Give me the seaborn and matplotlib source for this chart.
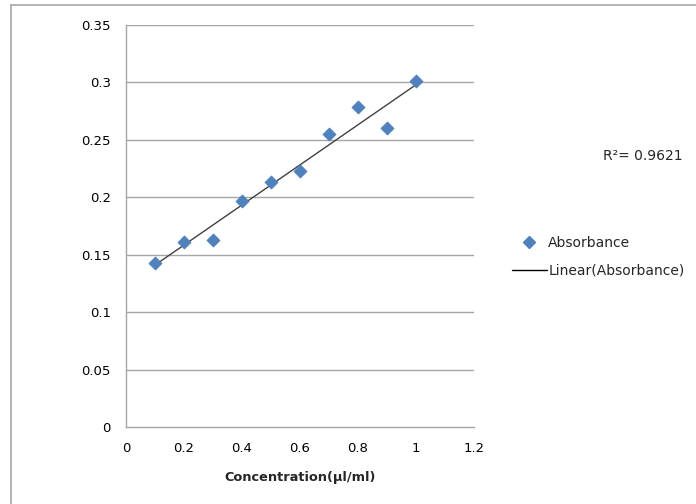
import numpy as np
import pandas as pd
import matplotlib
matplotlib.use("Agg")
import matplotlib.pyplot as plt
import seaborn as sns
from matplotlib.lines import Line2D

concentration = [0.1, 0.2, 0.3, 0.4, 0.5, 0.6, 0.7, 0.8, 0.9, 1.0]
absorbance = [0.143, 0.161, 0.163, 0.197, 0.213, 0.223, 0.255, 0.279, 0.260, 0.301]
x_ticks = [0, 0.2, 0.4, 0.6, 0.8, 1, 1.2]
x_tick_labels = ["0", "0.2", "0.4", "0.6", "0.8", "1", "1.2"]
y_ticks = [0, 0.05, 0.1, 0.15, 0.2, 0.25, 0.3, 0.35]
y_tick_labels = ["0", "0.05", "0.1", "0.15", "0.2", "0.25", "0.3", "0.35"]
r2_text = "R²= 0.9621"

df = pd.DataFrame({"Concentration": concentration, "Absorbance": absorbance})

sns.set_style("white")
plt.rcParams["font.family"] = ["DejaVu Sans"]

fig = plt.figure(figsize=(6.96, 5.04), dpi=100)
ax = fig.add_axes([126/696, 1-427/504, (474-126)/696, (427-25)/504])

blue = "#4F81BD"
sns.scatterplot(data=df, x="Concentration", y="Absorbance", marker="D", s=45,
                color=blue, edgecolor=blue, linewidth=0.5, ax=ax, zorder=3, legend=False)

slope, intercept = np.polyfit(concentration, absorbance, 1)
xs = np.array([min(concentration), max(concentration)])
sns.lineplot(x=xs, y=slope*xs+intercept, color="#404040", linewidth=1.0, ax=ax, zorder=2)

ax.set_xlim(0, 1.2)
ax.set_ylim(0, 0.35)
ax.set_xticks(x_ticks)
ax.set_xticklabels(x_tick_labels)
ax.set_yticks(y_ticks)
ax.set_yticklabels(y_tick_labels)
for y in y_ticks[1:]:
    ax.axhline(y, color="#a6a6a6", linewidth=1.0, zorder=1)
for s in ["top", "right"]:
    ax.spines[s].set_visible(False)
for s in ["left", "bottom"]:
    ax.spines[s].set_color("#a6a6a6")
    ax.spines[s].set_linewidth(1.0)
ax.tick_params(axis="both", length=0, labelsize=9.5, colors="#000000")
ax.tick_params(axis="x", pad=11)
ax.tick_params(axis="y", pad=11)
ax.set_ylabel("")
ax.set_xlabel("Concentration(µl/ml)", fontsize=9.3, fontweight="bold", labelpad=11)

handles = [
    Line2D([], [], marker="D", linestyle="none", color=blue, markersize=6),
    Line2D([], [], color="#000000", linewidth=1.0),
]
fig.legend(handles, ["Absorbance", "Linear(Absorbance)"], loc="center left",
           bbox_to_anchor=(501/696, 1-257/504), frameon=False, fontsize=10,
           handlelength=2.5, handletextpad=0.1, labelspacing=1.0, borderpad=0.3)

fig.text(643/696, 1-156/504, r2_text, fontsize=10, ha="center", va="center")

fig.add_artist(Line2D([11/696, 11/696], [0, 1-5/504], transform=fig.transFigure,
                      color="#a6a6a6", linewidth=1.2))
fig.add_artist(Line2D([11/696, 1], [1-5/504, 1-5/504], transform=fig.transFigure,
                      color="#a6a6a6", linewidth=1.2))

fig.savefig("out.png", dpi=100)
